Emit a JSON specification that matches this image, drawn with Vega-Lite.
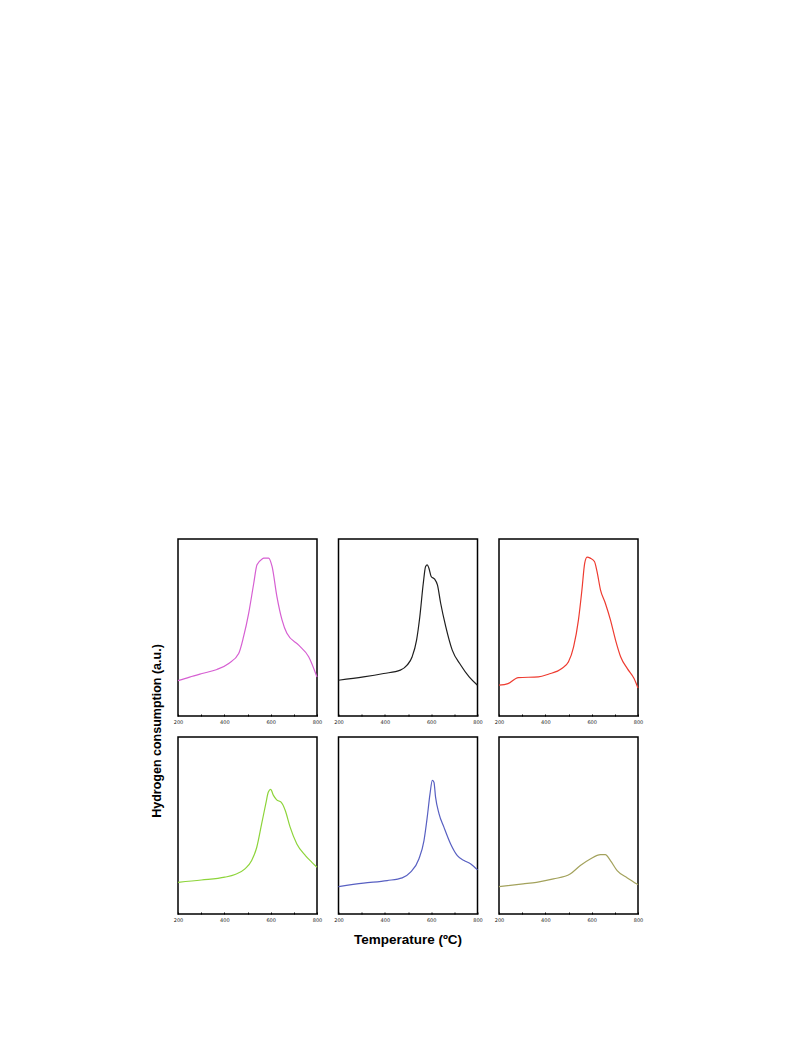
{
  "$schema": "https://vega.github.io/schema/vega-lite/v6.json",
  "padding": {"left": 150, "top": 538, "right": 0, "bottom": 0},
  "background": "white",
  "datasets": {
    "tpr": [
      {"p":"a","r":1,"c":1,"t":200,"v":20.0},{"p":"a","r":1,"c":1,"t":250,"v":22},{"p":"a","r":1,"c":1,"t":304,"v":24},{"p":"a","r":1,"c":1,"t":368,"v":26.3},{"p":"a","r":1,"c":1,"t":419,"v":29.7},{"p":"a","r":1,"c":1,"t":462,"v":35.3},{"p":"a","r":1,"c":1,"t":483,"v":44.8},{"p":"a","r":1,"c":1,"t":505,"v":58},{"p":"a","r":1,"c":1,"t":527,"v":75},{"p":"a","r":1,"c":1,"t":541,"v":85.4},{"p":"a","r":1,"c":1,"t":563,"v":88.7},{"p":"a","r":1,"c":1,"t":570,"v":89.2},{"p":"a","r":1,"c":1,"t":591,"v":89.2},{"p":"a","r":1,"c":1,"t":606,"v":84.5},{"p":"a","r":1,"c":1,"t":627,"v":67.5},{"p":"a","r":1,"c":1,"t":649,"v":54.3},{"p":"a","r":1,"c":1,"t":670,"v":46.7},{"p":"a","r":1,"c":1,"t":721,"v":40},{"p":"a","r":1,"c":1,"t":764,"v":33.5},{"p":"a","r":1,"c":1,"t":800,"v":22},
      {"p":"b","r":1,"c":2,"t":200,"v":20.2},{"p":"b","r":1,"c":2,"t":308,"v":22.1},{"p":"b","r":1,"c":2,"t":395,"v":24},{"p":"b","r":1,"c":2,"t":467,"v":25.9},{"p":"b","r":1,"c":2,"t":496,"v":28.7},{"p":"b","r":1,"c":2,"t":518,"v":33.5},{"p":"b","r":1,"c":2,"t":537,"v":42.9},{"p":"b","r":1,"c":2,"t":551,"v":56.1},{"p":"b","r":1,"c":2,"t":566,"v":75},{"p":"b","r":1,"c":2,"t":576,"v":84.5},{"p":"b","r":1,"c":2,"t":583,"v":85.4},{"p":"b","r":1,"c":2,"t":590,"v":83.6},{"p":"b","r":1,"c":2,"t":600,"v":78.8},{"p":"b","r":1,"c":2,"t":615,"v":77.3},{"p":"b","r":1,"c":2,"t":627,"v":74.1},{"p":"b","r":1,"c":2,"t":641,"v":63.7},{"p":"b","r":1,"c":2,"t":663,"v":50.5},{"p":"b","r":1,"c":2,"t":691,"v":37.2},{"p":"b","r":1,"c":2,"t":728,"v":28.7},{"p":"b","r":1,"c":2,"t":764,"v":22.1},{"p":"b","r":1,"c":2,"t":800,"v":17.4},
      {"p":"c","r":1,"c":3,"t":200,"v":17.4},{"p":"c","r":1,"c":3,"t":239,"v":18.3},{"p":"c","r":1,"c":3,"t":283,"v":21.7},{"p":"c","r":1,"c":3,"t":370,"v":22.1},{"p":"c","r":1,"c":3,"t":413,"v":23.6},{"p":"c","r":1,"c":3,"t":471,"v":26.8},{"p":"c","r":1,"c":3,"t":500,"v":30.6},{"p":"c","r":1,"c":3,"t":522,"v":39.1},{"p":"c","r":1,"c":3,"t":543,"v":54.3},{"p":"c","r":1,"c":3,"t":558,"v":71.3},{"p":"c","r":1,"c":3,"t":570,"v":86.4},{"p":"c","r":1,"c":3,"t":580,"v":89.8},{"p":"c","r":1,"c":3,"t":594,"v":89.2},{"p":"c","r":1,"c":3,"t":612,"v":87.3},{"p":"c","r":1,"c":3,"t":623,"v":81.7},{"p":"c","r":1,"c":3,"t":638,"v":71.3},{"p":"c","r":1,"c":3,"t":659,"v":63.7},{"p":"c","r":1,"c":3,"t":681,"v":54.3},{"p":"c","r":1,"c":3,"t":703,"v":42.9},{"p":"c","r":1,"c":3,"t":725,"v":33.5},{"p":"c","r":1,"c":3,"t":754,"v":26.8},{"p":"c","r":1,"c":3,"t":783,"v":21.2},{"p":"c","r":1,"c":3,"t":800,"v":15.8},
      {"p":"d","r":2,"c":1,"t":200,"v":17.9},{"p":"d","r":2,"c":1,"t":301,"v":19.2},{"p":"d","r":2,"c":1,"t":402,"v":20.8},{"p":"d","r":2,"c":1,"t":446,"v":22.3},{"p":"d","r":2,"c":1,"t":489,"v":25.5},{"p":"d","r":2,"c":1,"t":518,"v":30.2},{"p":"d","r":2,"c":1,"t":540,"v":37.7},{"p":"d","r":2,"c":1,"t":561,"v":50.9},{"p":"d","r":2,"c":1,"t":579,"v":62.3},{"p":"d","r":2,"c":1,"t":590,"v":68.9},{"p":"d","r":2,"c":1,"t":600,"v":70.4},{"p":"d","r":2,"c":1,"t":612,"v":67},{"p":"d","r":2,"c":1,"t":626,"v":64.5},{"p":"d","r":2,"c":1,"t":645,"v":63.2},{"p":"d","r":2,"c":1,"t":663,"v":58.5},{"p":"d","r":2,"c":1,"t":684,"v":49.1},{"p":"d","r":2,"c":1,"t":713,"v":39.6},{"p":"d","r":2,"c":1,"t":750,"v":33},{"p":"d","r":2,"c":1,"t":778,"v":29.2},{"p":"d","r":2,"c":1,"t":800,"v":26.4},
      {"p":"e","r":2,"c":2,"t":200,"v":15.5},{"p":"e","r":2,"c":2,"t":308,"v":17.4},{"p":"e","r":2,"c":2,"t":410,"v":18.9},{"p":"e","r":2,"c":2,"t":475,"v":20.4},{"p":"e","r":2,"c":2,"t":511,"v":23.6},{"p":"e","r":2,"c":2,"t":547,"v":31.1},{"p":"e","r":2,"c":2,"t":569,"v":41.5},{"p":"e","r":2,"c":2,"t":583,"v":54.7},{"p":"e","r":2,"c":2,"t":595,"v":67.9},{"p":"e","r":2,"c":2,"t":605,"v":75.5},{"p":"e","r":2,"c":2,"t":612,"v":74.5},{"p":"e","r":2,"c":2,"t":619,"v":66},{"p":"e","r":2,"c":2,"t":634,"v":56.6},{"p":"e","r":2,"c":2,"t":655,"v":49.1},{"p":"e","r":2,"c":2,"t":684,"v":39.6},{"p":"e","r":2,"c":2,"t":713,"v":33},{"p":"e","r":2,"c":2,"t":742,"v":30.2},{"p":"e","r":2,"c":2,"t":771,"v":28.3},{"p":"e","r":2,"c":2,"t":800,"v":24.9},
      {"p":"f","r":2,"c":3,"t":200,"v":15.5},{"p":"f","r":2,"c":3,"t":304,"v":17},{"p":"f","r":2,"c":3,"t":362,"v":17.9},{"p":"f","r":2,"c":3,"t":435,"v":19.8},{"p":"f","r":2,"c":3,"t":507,"v":22.6},{"p":"f","r":2,"c":3,"t":551,"v":27.4},{"p":"f","r":2,"c":3,"t":594,"v":31.1},{"p":"f","r":2,"c":3,"t":638,"v":33.6},{"p":"f","r":2,"c":3,"t":659,"v":33.6},{"p":"f","r":2,"c":3,"t":681,"v":30.2},{"p":"f","r":2,"c":3,"t":710,"v":24.5},{"p":"f","r":2,"c":3,"t":754,"v":20.4},{"p":"f","r":2,"c":3,"t":800,"v":16.6}
    ]
  },
  "data": {"name": "tpr"},
  "facet": {
    "row": {"field": "r", "type": "ordinal", "header": {"labels": false, "title": "Hydrogen consumption (a.u.)", "titleOrient": "left", "titleFont": "Liberation Sans", "titleFontWeight": "bold", "titleFontSize": 12.5, "titleColor": "black", "titlePadding": 5}},
    "column": {"field": "c", "type": "ordinal", "header": {"labels": false, "title": "Temperature (ºC)", "titleOrient": "bottom", "titleFont": "Liberation Sans", "titleFontWeight": "bold", "titleFontSize": 13.5, "titleColor": "black", "titlePadding": 9}}
  },
  "spacing": {"row": 21, "column": 21.5},
  "bounds": "flush",
  "resolve": {"axis": {"x": "independent"}},
  "spec": {
    "width": 139,
    "height": 177,
    "mark": {"type": "line", "strokeWidth": 1.2, "interpolate": "monotone"},
    "encoding": {
      "x": {"field": "t", "type": "quantitative", "scale": {"domain": [200, 800], "nice": false, "zero": false},
        "axis": {"title": null, "values": [200,300,400,500,600,700,800], "labelExpr": "datum.value % 200 == 0 ? datum.value : ''", "domain": false, "grid": false, "tickSize": -2, "tickColor": "black", "tickWidth": 1, "labelFont": "DejaVu Sans", "labelFontSize": 5, "labelColor": "#222", "labelPadding": 5, "labelFlush": false, "labelOverlap": false}},
      "y": {"field": "v", "type": "quantitative", "scale": {"domain": [0, 100], "nice": false}, "axis": null},
      "color": {"field": "p", "type": "nominal", "legend": null,
        "scale": {"domain": ["a","b","c","d","e","f"], "range": ["#d65fd2", "#1e1e1e", "#ee3b30", "#8dd43a", "#5860c2", "#a3a25c"]}}
    }
  },
  "config": {"view": {"stroke": "black", "strokeWidth": 1.5}}
}
